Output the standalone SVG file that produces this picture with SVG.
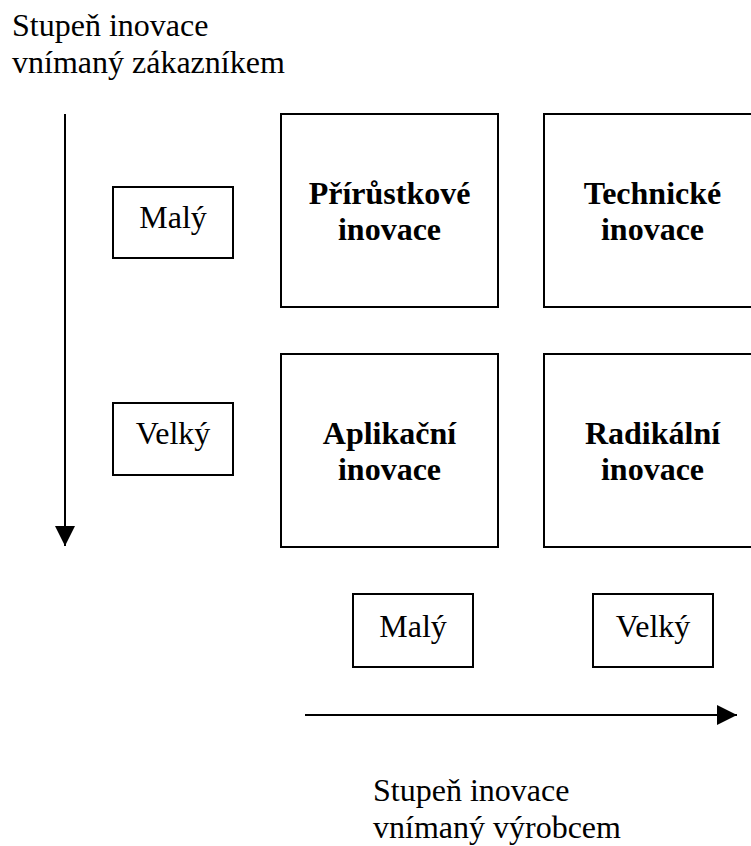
<svg xmlns="http://www.w3.org/2000/svg" width="751" height="846" viewBox="0 0 751 846">
<style>
  .box { fill: #fff; stroke: #000; stroke-width: 2; }
  .t { font-family: "Liberation Serif", "Times New Roman", serif; font-size: 32px; fill: #000; }
  .b { font-weight: bold; text-anchor: middle; }
  .c { text-anchor: middle; }
  .ax { stroke: #000; stroke-width: 2; fill: none; }
</style>
<defs>
  <marker id="ah" viewBox="0 0 20 20" refX="20" refY="10" markerWidth="20" markerHeight="20" markerUnits="userSpaceOnUse" orient="auto">
    <path d="M0,0 L20,10 L0,20 Z" fill="#000"/>
  </marker>
</defs>
<rect width="751" height="846" fill="#fff"/>
<g id="label-zakaznik">
  <text class="t" x="12" y="36">Stupeň inovace</text>
  <text class="t" x="12" y="73">vnímaný zákazníkem</text>
</g>
<g id="label-vyrobce">
  <text class="t" x="373" y="801">Stupeň inovace</text>
  <text class="t" x="373" y="838">vnímaný výrobcem</text>
</g>
<g id="connectors">
  <line class="ax" x1="65" y1="114" x2="65" y2="546" marker-end="url(#ah)"/>
  <line class="ax" x1="305" y1="715" x2="737" y2="715" marker-end="url(#ah)"/>
</g>
<g id="maly-left">
  <rect class="box" x="113" y="187" width="120" height="71"/>
  <text class="t c" x="173" y="228">Malý</text>
</g>
<g id="velky-left">
  <rect class="box" x="113" y="403" width="120" height="72"/>
  <text class="t c" x="173" y="444">Velký</text>
</g>
<g id="prirustkove">
  <rect class="box" x="281" y="114" width="217" height="193"/>
  <text class="t b" x="389.5" y="204">Přírůstkové</text>
  <text class="t b" x="389.5" y="240">inovace</text>
</g>
<g id="technicke">
  <rect class="box" x="544" y="114" width="217" height="193"/>
  <text class="t b" x="652.5" y="204">Technické</text>
  <text class="t b" x="652.5" y="240">inovace</text>
</g>
<g id="aplikacni">
  <rect class="box" x="281" y="354" width="217" height="193"/>
  <text class="t b" x="389.5" y="444">Aplikační</text>
  <text class="t b" x="389.5" y="480">inovace</text>
</g>
<g id="radikalni">
  <rect class="box" x="544" y="354" width="217" height="193"/>
  <text class="t b" x="652.5" y="444">Radikální</text>
  <text class="t b" x="652.5" y="480">inovace</text>
</g>
<g id="maly-bottom">
  <rect class="box" x="353" y="594" width="120" height="73"/>
  <text class="t c" x="413" y="637">Malý</text>
</g>
<g id="velky-bottom">
  <rect class="box" x="593" y="594" width="120" height="73"/>
  <text class="t c" x="653" y="637">Velký</text>
</g>
</svg>
